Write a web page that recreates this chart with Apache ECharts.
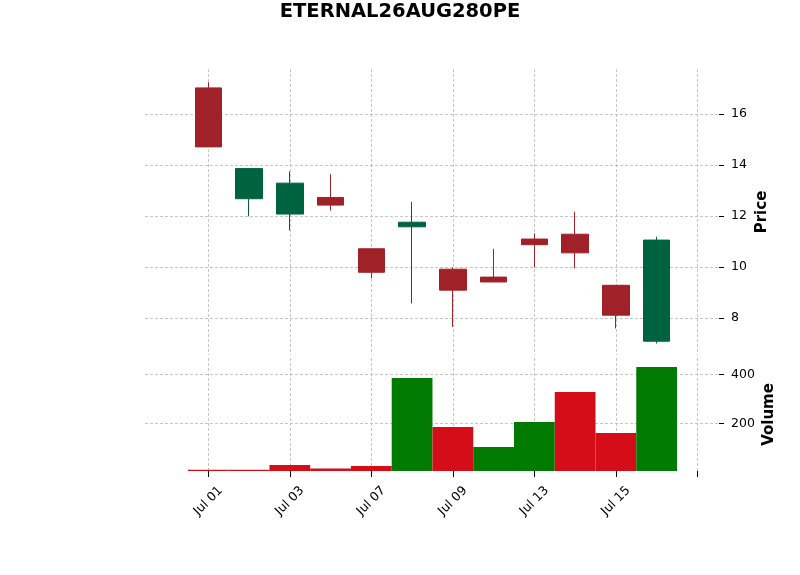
<!DOCTYPE html>
<html>
<head>
<meta charset="utf-8">
<script src="https://cdn.jsdelivr.net/npm/echarts@6/dist/echarts.min.js"></script>
<style>
html,body{margin:0;padding:0;background:#fff;}
#chart{width:800px;height:575px;}
</style>
</head>
<body>
<div id="chart"></div>
<script>
const titleText = 'ETERNAL26AUG280PE';
const dates  = ['Jul 01','Jul 02','Jul 03','Jul 04','Jul 07','Jul 08','Jul 09','Jul 10','Jul 13','Jul 14','Jul 15','Jul 16'];
const opens  = [17.02, 12.68, 12.08, 12.73, 10.72, 11.58,  9.92,  9.61, 11.10, 11.29,  9.29,  7.10];
const closes = [14.71, 13.86, 13.29, 12.43,  9.80, 11.76,  9.10,  9.42, 10.88, 10.56,  8.12, 11.06];
const lows   = [14.71, 11.99, 11.44, 12.22,  9.56,  8.58,  7.66,  9.42,  9.99,  9.95,  7.60,  7.01];
const highs  = [17.24, 13.86, 13.75, 13.64, 10.72, 12.56,  9.99, 10.72, 11.32, 12.17,  9.29, 11.19];
const volumes= [10, 10, 30, 15, 26, 385, 185, 103, 205, 328, 160, 430];
const priceTicks = [8, 10, 12, 14, 16];
const volumeTicks = [200, 400];
const xTickIdx = [0, 2, 4, 6, 8, 10, 12];
const xLabelIdx = [0, 2, 4, 6, 8, 10];

const UP = '#006340', DOWN = '#a02128';
const VUP = '#007a00', VDOWN = '#d50d18';
const FONT = 'DejaVu Sans';
const gridLine = {show: true, lineStyle: {color: '#b8b8b8', width: 0.8, type: [3, 2]}};

const candleData = dates.map((d, i) => [i, opens[i], closes[i], lows[i], highs[i]]);
const volData = dates.map((d, i) => {
  const up = i === 0 ? closes[i] >= opens[i] : closes[i] >= closes[i - 1];
  return {value: [i, volumes[i]], itemStyle: {color: up ? VUP : VDOWN}};
});

const XMIN = -1.553, XMAX = 12.53;

const chart = echarts.init(document.getElementById('chart'), null, {renderer: 'canvas'});
chart.setOption({
  animation: false,
  backgroundColor: '#fff',
  title: {
    text: titleText, left: 'center', top: 2, padding: 0,
    textStyle: {fontFamily: FONT, fontSize: 19.5, fontWeight: 'bold', color: '#000'}
  },
  grid: [
    {left: 145, right: 81, top: 69, height: 286},
    {left: 145, right: 81, top: 358, height: 113}
  ],
  xAxis: [
    {
      type: 'value', gridIndex: 0, min: XMIN, max: XMAX,
      axisLine: {show: false, onZero: false},
      axisTick: {show: false, customValues: xTickIdx},
      axisLabel: {show: false, customValues: xLabelIdx},
      splitLine: gridLine
    },
    {
      type: 'value', gridIndex: 1, min: XMIN, max: XMAX,
      axisLine: {show: false, onZero: false},
      axisTick: {show: true, length: 6, customValues: xTickIdx, lineStyle: {color: '#000', width: 1}},
      axisLabel: {
        show: true, customValues: xLabelIdx, rotate: 45, align: 'center', verticalAlign: 'middle',
        margin: 30, fontFamily: FONT, fontSize: 12.5, color: '#000',
        formatter: v => dates[Math.round(v)] || ''
      },
      splitLine: gridLine
    }
  ],
  yAxis: [
    {
      type: 'value', gridIndex: 0, position: 'right', min: 6.56, max: 17.76,
      name: 'Price', nameLocation: 'middle', nameGap: 36, nameMoveOverlap: false,
      nameTextStyle: {fontFamily: FONT, fontSize: 15, fontWeight: 'bold', color: '#000'},
      axisLine: {show: false, onZero: false},
      axisTick: {show: true, length: 5, customValues: priceTicks, lineStyle: {color: '#000', width: 1}},
      axisLabel: {show: true, customValues: priceTicks, margin: 12, fontFamily: FONT, fontSize: 12.5, color: '#000'},
      splitLine: gridLine
    },
    {
      type: 'value', gridIndex: 1, position: 'right', min: 5.3, max: 466.5,
      name: 'Volume', nameLocation: 'middle', nameGap: 43, nameMoveOverlap: false,
      nameTextStyle: {fontFamily: FONT, fontSize: 15, fontWeight: 'bold', color: '#000'},
      axisLine: {show: false, onZero: false},
      axisTick: {show: true, length: 5, customValues: volumeTicks, lineStyle: {color: '#000', width: 1}},
      axisLabel: {show: true, customValues: volumeTicks, margin: 12, fontFamily: FONT, fontSize: 12.5, color: '#000'},
      splitLine: gridLine
    }
  ],
  series: [
    {
      type: 'candlestick', xAxisIndex: 0, yAxisIndex: 0,
      data: candleData,
      encode: {x: 0, y: [1, 2, 3, 4]},
      barWidth: 27,
      itemStyle: {color: UP, color0: DOWN, borderColor: UP, borderColor0: DOWN, borderWidth: 1}
    },
    {
      type: 'bar', xAxisIndex: 1, yAxisIndex: 1,
      data: volData,
      barWidth: 40.75
    }
  ]
});
</script>
</body>
</html>
